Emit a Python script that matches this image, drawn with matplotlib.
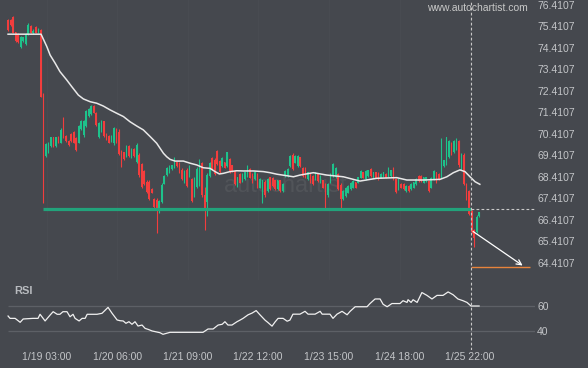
import matplotlib
matplotlib.use("Agg")
import matplotlib.pyplot as plt
import numpy as np

plt.rcParams['font.family'] = ['Liberation Sans', 'DejaVu Sans']

# hourly candles
opens = [75.70, 75.70, 75.85, 75.15, 75.05, 74.45, 74.72, 74.60, 75.05, 75.45,
         75.12, 75.40, 75.12, 75.25, 72.25, 69.40, 69.55, 69.85, 70.25, 69.85,
         70.28, 70.00, 71.10, 70.33, 70.10, 70.40, 70.50, 70.20, 70.00, 70.65,
         70.35, 70.80, 71.25, 71.32, 71.72, 71.40, 70.25, 70.55, 71.00, 70.40,
         70.30, 70.05, 70.00, 70.62, 70.50, 69.60, 69.55, 69.40, 69.85, 69.30,
         69.70, 69.10, 69.45, 69.00, 68.70, 68.20, 68.20, 67.85, 67.40, 67.35,
         66.90, 67.25, 68.10, 68.48, 68.60, 68.76, 68.85, 69.10, 69.05, 68.75,
         68.15, 68.75, 68.45, 68.30, 67.50, 67.95, 68.30, 69.05, 67.55, 67.25,
         68.45, 69.30, 69.20, 69.60, 69.15, 68.92, 69.10, 68.92, 69.25, 68.95,
         68.70, 68.00, 68.55, 68.20, 68.30, 68.45, 68.78, 68.55, 68.30, 68.55,
         67.92, 67.60, 68.20, 67.75, 68.40, 68.38, 68.25, 67.85, 68.25, 67.76,
         68.45, 68.45, 68.92, 69.45, 69.08, 68.92, 69.32, 68.85, 68.85, 68.30,
         68.55, 68.45, 68.30, 68.55, 68.15, 68.25, 68.05, 67.55, 68.15, 68.45,
         68.40, 68.55, 68.05, 67.38, 67.52, 67.68, 67.85, 67.92, 68.16, 68.15,
         68.38, 68.62, 68.32, 68.45, 68.78, 68.38, 68.63, 68.60, 68.37, 68.45,
         68.56, 68.45, 68.45, 68.85, 68.30, 67.85, 68.10, 68.08, 67.76, 68.00,
         67.84, 67.92, 68.07, 68.47, 68.45, 68.15, 68.22, 68.22, 67.92, 68.30,
         68.62, 68.55, 68.40, 68.92, 69.00, 69.32, 70.00, 69.55, 69.70, 70.10,
         68.78, 69.45, 68.08, 67.75, 66.85, 65.95, 65.85, 66.58]
highs = [75.74, 75.74, 75.90, 75.17, 75.12, 74.97, 74.94, 75.09, 75.56, 75.48,
         75.30, 75.43, 75.33, 75.28, 72.30, 69.98, 70.05, 70.29, 70.29, 70.29,
         70.32, 70.67, 71.22, 70.36, 70.13, 70.44, 70.56, 70.29, 70.83, 71.06,
         71.06, 71.53, 71.61, 71.76, 71.76, 71.45, 70.98, 71.06, 71.03, 70.44,
         70.36, 70.36, 70.75, 70.67, 70.63, 69.67, 69.59, 69.90, 69.90, 69.74,
         69.74, 69.98, 69.51, 69.05, 68.74, 68.27, 68.27, 67.88, 67.42, 67.42,
         67.34, 68.12, 68.50, 68.89, 68.97, 68.97, 69.35, 69.12, 69.12, 68.81,
         68.74, 68.81, 68.97, 68.36, 68.41, 68.87, 69.25, 69.12, 67.96, 68.58,
         69.12, 69.35, 69.28, 69.67, 69.20, 69.35, 69.12, 69.59, 69.28, 68.97,
         68.74, 68.42, 68.58, 68.58, 68.66, 68.97, 68.81, 68.58, 68.66, 68.58,
         68.35, 68.27, 68.27, 68.35, 68.42, 68.42, 68.27, 68.27, 68.27, 68.12,
         68.74, 68.81, 69.43, 69.51, 69.43, 69.43, 69.35, 68.89, 68.89, 68.66,
         68.58, 68.50, 68.66, 68.58, 68.50, 68.27, 68.12, 68.12, 68.58, 69.05,
         68.89, 68.58, 68.12, 67.81, 67.96, 68.04, 68.19, 68.27, 68.19, 68.42,
         68.74, 68.66, 68.74, 68.74, 68.81, 68.66, 68.66, 68.66, 68.58, 68.66,
         68.58, 68.89, 68.74, 68.89, 68.35, 68.35, 68.12, 68.12, 68.04, 68.04,
         68.12, 68.19, 68.35, 68.50, 68.50, 68.42, 68.42, 68.27, 68.42, 68.74,
         68.66, 68.58, 70.21, 69.20, 70.29, 70.13, 70.05, 70.13, 70.21, 70.13,
         69.51, 69.51, 68.12, 67.81, 66.88, 65.98, 66.64, 66.80]
lows = [75.21, 75.43, 75.09, 74.70, 74.63, 74.39, 74.70, 74.55, 75.01, 75.09,
        75.05, 75.09, 75.09, 72.12, 67.22, 69.35, 69.51, 69.82, 69.82, 69.80,
        69.98, 69.98, 70.21, 70.05, 69.85, 70.05, 69.98, 69.63, 69.98, 70.60,
        70.29, 70.75, 71.22, 71.29, 71.37, 70.78, 70.21, 70.52, 70.29, 70.13,
        69.98, 70.03, 69.90, 69.98, 69.43, 68.89, 69.20, 69.35, 69.35, 69.28,
        69.35, 69.05, 68.42, 67.88, 68.04, 67.65, 67.34, 67.65, 66.95, 65.82,
        66.72, 67.18, 68.08, 68.45, 68.58, 68.74, 68.81, 68.89, 68.58, 68.27,
        68.12, 67.96, 68.42, 67.25, 67.48, 67.90, 68.00, 67.49, 65.95, 66.60,
        68.42, 68.74, 68.50, 68.97, 68.58, 68.89, 68.81, 68.89, 68.58, 68.66,
        68.04, 67.96, 68.12, 68.19, 68.27, 68.42, 68.35, 68.12, 68.27, 67.88,
        67.88, 67.18, 67.49, 67.73, 67.81, 67.96, 67.81, 67.81, 67.73, 67.73,
        68.42, 68.42, 68.89, 68.74, 69.05, 68.89, 68.89, 68.42, 68.35, 68.27,
        68.12, 68.04, 68.27, 68.19, 68.12, 67.88, 66.95, 67.49, 68.12, 68.42,
        68.35, 67.81, 66.95, 67.34, 67.49, 67.65, 67.81, 67.88, 67.88, 68.12,
        68.35, 68.35, 68.27, 68.42, 68.42, 68.35, 68.35, 68.27, 68.35, 68.42,
        68.35, 68.42, 68.42, 68.27, 67.65, 67.81, 67.88, 67.81, 67.73, 67.73,
        67.81, 67.88, 68.04, 68.19, 68.19, 68.12, 68.19, 67.73, 67.88, 68.27,
        68.12, 68.27, 68.35, 68.89, 68.97, 69.28, 69.43, 69.51, 69.67, 68.89,
        68.74, 68.04, 67.34, 66.64, 65.79, 65.17, 65.79, 66.57]
closes = [75.25, 75.46, 75.12, 74.75, 74.70, 74.90, 74.92, 75.05, 75.50, 75.12,
          75.22, 75.12, 75.30, 72.15, 69.60, 69.95, 70.00, 70.25, 69.85, 70.25,
          70.00, 70.60, 70.25, 70.08, 69.88, 70.10, 70.00, 69.68, 70.78, 71.00,
          71.00, 71.48, 71.58, 71.72, 71.40, 70.82, 70.90, 71.02, 70.32, 70.15,
          70.00, 70.33, 70.70, 70.05, 69.50, 68.95, 69.25, 69.85, 69.40, 69.70,
          69.38, 69.92, 68.50, 67.95, 68.10, 67.70, 67.40, 67.68, 67.00, 66.95,
          67.30, 68.05, 68.45, 68.85, 68.93, 68.95, 69.30, 68.92, 68.62, 68.30,
          68.70, 68.00, 68.92, 67.30, 68.35, 68.80, 69.20, 67.55, 66.95, 68.50,
          69.08, 68.78, 68.55, 69.00, 68.62, 69.30, 68.85, 69.55, 68.62, 68.70,
          68.10, 68.40, 68.15, 68.55, 68.62, 68.93, 68.38, 68.15, 68.62, 67.92,
          68.30, 68.25, 67.55, 68.30, 67.85, 68.00, 67.85, 68.25, 67.78, 68.10,
          68.70, 68.78, 69.40, 68.78, 69.40, 69.40, 68.92, 68.45, 68.40, 68.62,
          68.15, 68.08, 68.62, 68.22, 68.47, 67.92, 67.60, 68.08, 68.55, 69.00,
          68.85, 67.85, 67.40, 67.78, 67.92, 68.00, 68.15, 68.24, 67.92, 68.40,
          68.70, 68.38, 68.70, 68.72, 68.45, 68.63, 68.38, 68.30, 68.56, 68.64,
          68.38, 68.85, 68.72, 68.30, 67.70, 68.30, 67.90, 67.84, 68.00, 67.76,
          68.10, 68.16, 68.32, 68.22, 68.22, 68.40, 68.40, 67.78, 68.38, 68.70,
          68.16, 68.30, 70.15, 69.18, 70.25, 70.10, 69.47, 70.10, 70.18, 68.95,
          69.45, 68.10, 67.40, 66.70, 65.85, 65.55, 66.55, 66.78]

# moving average (bar index, price)
ma_idx = [0, 13.1, 15.4, 16.7, 18.7, 20.6, 23.3, 25.3, 27.9, 29.9, 32.6, 35.2, 37.8,
          40.5, 43.2, 45.8, 48.4, 51.1, 53.7, 56.4, 59.0, 61.7, 63.0, 64.3, 66.3,
          69.6, 72.3, 74.9, 77.5, 80.2, 82.2, 83.9, 85.5, 88.1, 90.8, 93.4, 97.4,
          101.4, 104.0, 106.7, 110.6, 113.3, 115.9, 121.2, 126.5, 133.1, 139.7,
          146.4, 154.3, 158.3, 164.9, 171.5, 174.2, 176.8, 179.4, 181.4, 183.4,
          185.4, 187.3]
ma_val = [75.05, 75.05, 74.47, 74.08, 73.70, 73.31, 72.92, 72.61, 72.22, 72.04,
          71.91, 71.84, 71.71, 71.53, 71.37, 71.22, 70.98, 70.78, 70.60, 70.29,
          69.98, 69.51, 69.35, 69.23, 69.15, 69.15, 69.05, 68.97, 68.84, 68.81,
          68.66, 68.55, 68.58, 68.66, 68.70, 68.69, 68.69, 68.66, 68.61, 68.54,
          68.47, 68.42, 68.50, 68.61, 68.50, 68.42, 68.22, 68.35, 68.38, 68.27,
          68.27, 68.30, 68.42, 68.61, 68.74, 68.66, 68.42, 68.19, 68.07]

# RSI (bar index, value)
rsi_idx = [0, 0.8, 2.8, 4.0, 4.8, 6.0, 9.9, 11.9, 12.7, 14.7, 16.7, 17.9, 19.5,
           20.6, 21.8, 23.4, 24.6, 25.8, 26.6, 28.2, 29.4, 30.6, 31.4, 33.7, 35.3,
           37.3, 39.7, 41.3, 43.3, 44.5, 45.7, 46.8, 48.0, 49.2, 50.4, 51.6, 53.2,
           54.4, 55.6, 57.2, 59.2, 60.3, 61.5, 64.3, 77.4, 79.4, 81.4, 83.4, 85.0,
           86.1, 87.3, 88.9, 90.9, 92.1, 93.3, 95.3, 96.9, 98.5, 100.0, 102.0,
           103.2, 104.8, 106.0, 107.2, 109.2, 110.8, 111.9, 113.1, 115.9, 117.9,
           119.1, 121.9, 123.9, 124.7, 127.8, 129.0, 130.6, 132.6, 134.6, 135.8,
           137.8, 142.5, 143.7, 145.7, 147.7, 148.9, 150.5, 152.4, 155.6, 156.8,
           158.4, 158.8, 160.0, 160.8, 162.4, 164.3, 166.3, 168.3, 170.3, 172.7,
           174.7, 176.7, 178.6, 180.6, 182.2, 183.8, 187.0]
rsi_val = [51.9, 50.0, 50.0, 48.1, 46.8, 49.5, 50.0, 50.0, 53.3, 47.9, 52.7, 55.4,
           53.3, 53.3, 55.4, 55.4, 51.3, 53.3, 50.0, 47.9, 50.0, 50.0, 53.3, 53.3,
           53.3, 54.1, 58.9, 54.1, 48.7, 48.1, 47.9, 46.0, 47.3, 45.2, 47.3, 43.8,
           44.6, 41.9, 41.1, 39.8, 38.9, 38.4, 37.1, 38.7, 38.7, 41.4, 41.4, 44.6,
           45.2, 47.3, 44.6, 44.6, 47.3, 48.6, 50.0, 52.9, 54.3, 56.3, 52.9, 48.6,
           46.6, 43.7, 47.1, 50.0, 50.0, 47.7, 48.6, 53.4, 53.4, 55.7, 53.4, 53.4,
           55.7, 53.4, 53.4, 50.0, 53.4, 55.7, 52.9, 55.7, 59.4, 59.4, 62.0, 65.7,
           65.7, 61.4, 59.4, 62.0, 62.0, 64.3, 62.9, 65.1, 62.9, 65.1, 62.9, 70.9,
           68.6, 65.7, 68.6, 68.6, 71.4, 69.1, 65.7, 64.3, 62.9, 60.0, 60.0]

tick_idx = [15.5, 43.3, 71.4, 99.3, 127.4, 155.5, 183.3]
tick_labels = ['1/19 03:00', '1/20 06:00', '1/21 09:00', '1/22 12:00',
               '1/23 15:00', '1/24 18:00', '1/25 22:00']
price_ticks = [64.4107 + k for k in range(13)]

support_level = 66.93
support_start = 14
now_idx = 183.7
target_level = 64.22
arrow_from = 65.95
arrow_to_idx = 205.2

BG = '#45484e'
UP = '#1ec28b'
DOWN = '#f23d3d'
TXT = '#c3c5c8'

W, H = 588, 368
fig = plt.figure(figsize=(W / 100, H / 100), dpi=100, facecolor=BG)
ax = fig.add_axes([0, 1 - 280 / H, 535 / W, 280 / H])
ax_rsi = fig.add_axes([0, 1 - 350 / H, 535 / W, 70 / H])
for a in (ax, ax_rsi):
    a.set_facecolor(BG)
    for s in a.spines.values():
        s.set_visible(False)
    a.set_xlim(-3.2, 209.2)

# candles
o = np.array(opens)
c = np.array(closes)
idx = np.arange(len(c))
cols = np.where(c >= o, UP, DOWN)
ax.vlines(idx, lows, highs, colors=cols, lw=0.8, zorder=3)
ax.bar(idx, np.maximum(np.abs(c - o), 0.03), bottom=np.minimum(o, c),
       width=0.6, color=cols, lw=0, zorder=3)

ax.plot(ma_idx, ma_val, color='#e8e8e8', lw=1.1, zorder=4)

# faint watermark
ax.text(110, 68.0, 'autochartist', fontsize=17, color='#515459',
        ha='center', va='center', zorder=1)

# pattern lines
ax.hlines(support_level, support_start, now_idx, color='#22a37b', lw=2.3, zorder=5)
ax.hlines(support_level, now_idx, 209.2, color='#c8c8c8', lw=0.8,
          linestyles=(0, (2.5, 2)), zorder=5)
ax.hlines(target_level, now_idx, 207.2, color='#e8843c', lw=1.0, zorder=5)
ax.annotate('', xy=(arrow_to_idx, target_level), xytext=(now_idx, arrow_from),
            arrowprops=dict(arrowstyle='->', color='white', lw=0.9,
                            mutation_scale=9), zorder=6)

ax.set_ylim(63.62, 76.64)
ax.yaxis.tick_right()
ax.set_yticks(price_ticks)
ax.set_yticklabels(['%.4f' % p for p in price_ticks])
ax.tick_params(axis='y', length=0, pad=1.5, labelsize=7.5, labelcolor=TXT)
ax.set_xticks(tick_idx)
ax.tick_params(axis='x', length=0, labelbottom=False)
ax.grid(axis='x', color='#484b51', lw=0.8)
ax.set_axisbelow(True)

# RSI panel
ax_rsi.set_ylim(24.4, 81.05)
ax_rsi.hlines([60, 40], 0, 209.2, color='#5d6066', lw=0.9)
ax_rsi.plot(rsi_idx, rsi_val, color='#f0f0f0', lw=0.9)
ax_rsi.yaxis.tick_right()
ax_rsi.set_yticks([40, 60])
ax_rsi.set_yticklabels(['40', '60'])
ax_rsi.tick_params(axis='y', length=0, pad=1.5, labelsize=7.5, labelcolor=TXT)
ax_rsi.set_xticks(tick_idx)
ax_rsi.set_xticklabels(tick_labels)
ax_rsi.tick_params(axis='x', length=0, pad=1.5, labelsize=7.5, labelcolor=TXT)
ax_rsi.text(14 / 535, (350 - 291) / 70, 'RSI', transform=ax_rsi.transAxes,
            fontsize=8, fontweight='bold', color='#b8bbbf', va='center')

for a in (ax, ax_rsi):
    a.axvline(now_idx, color='#c8c8c8', lw=0.8, linestyle=(0, (2.5, 2)), zorder=6)

fig.text(477 / W, 1 - 8 / H, 'www.autochartist.com', ha='center', va='center',
         fontsize=7.5, color='#c8c8c8')

fig.savefig('out.png', dpi=100, facecolor=BG)
